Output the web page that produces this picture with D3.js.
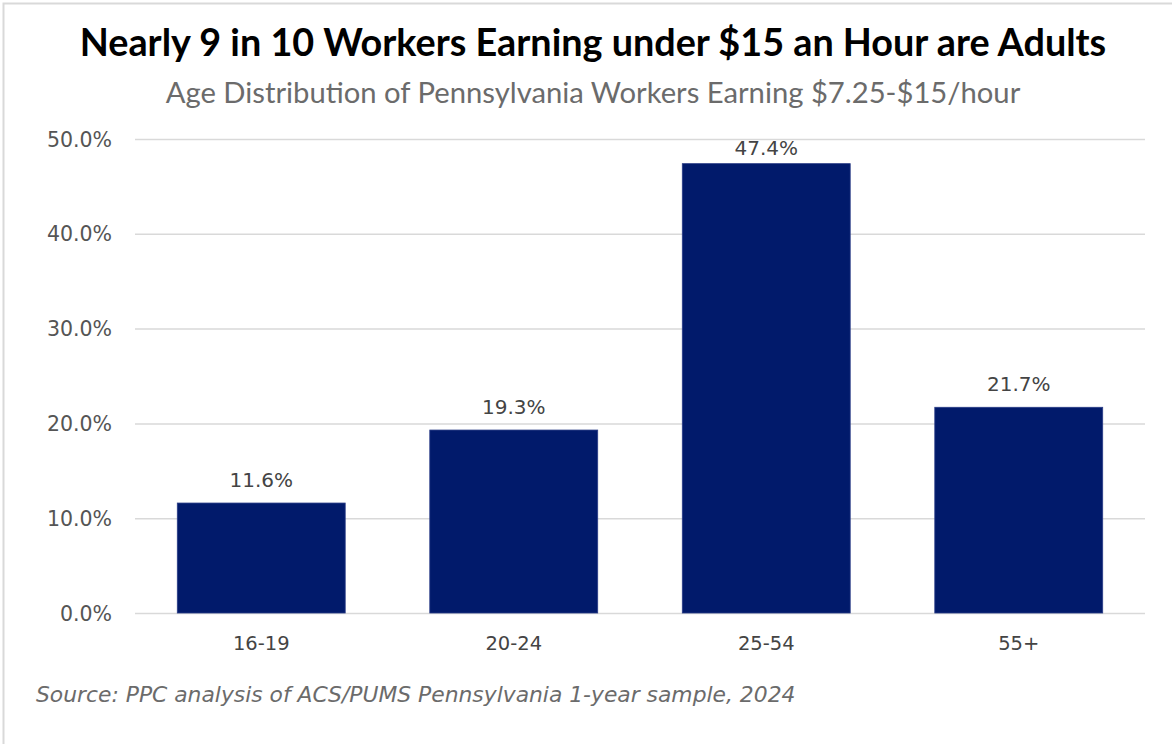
<!DOCTYPE html>
<html><head><meta charset="utf-8">
<script src="https://cdn.jsdelivr.net/npm/d3@7"></script>
<style>
html,body{margin:0;padding:0;background:#fff;}
svg{display:block;}
</style></head>
<body>
<svg id="chart" width="1172" height="744"></svg>
<script>
const categories = ["16-19", "20-24", "25-54", "55+"];
const values = [11.6, 19.3, 47.4, 21.7];
const yTicks = [0, 10, 20, 30, 40, 50];
const title = "Nearly 9 in 10 Workers Earning under $15 an Hour are Adults";
const subtitle = "Age Distribution of Pennsylvania Workers Earning $7.25-$15/hour";
const source = "Source: PPC analysis of ACS/PUMS Pennsylvania 1-year sample, 2024";

const W = 1172, H = 744;
const svg = d3.select("#chart");
const titleFont = "'Liberation Sans Narrow', Lato, sans-serif";
const smallFont = "'DejaVu Sans', sans-serif";

// frame
svg.append("rect").attr("x", 3.5).attr("y", 3.5).attr("width", W + 10).attr("height", H + 10)
  .attr("fill", "none").attr("stroke", "#d9d9d9").attr("stroke-width", 2);

const m = {left: 135, right: 1145, top: 139, bottom: 613};
const x = d3.scaleBand().domain(categories).range([m.left, m.right]).paddingInner(0.335).paddingOuter(0.1675);
const y = d3.scaleLinear().domain([0, 50]).range([m.bottom, m.top]);

function fitText(sel, target) {
  const w = sel.node().getComputedTextLength();
  const fs = parseFloat(sel.attr("font-size"));
  sel.attr("font-size", fs * target / w);
}

const t = svg.append("text").attr("x", 593).attr("y", 56).attr("text-anchor", "middle")
  .attr("font-family", titleFont).attr("font-weight", 700).attr("font-size", 30).attr("fill", "#000").text(title);
fitText(t, 1027);

const st = svg.append("text").attr("x", 593).attr("y", 103).attr("text-anchor", "middle")
  .attr("font-family", titleFont).attr("font-weight", 400).attr("font-size", 24).attr("fill", "#6b6b6b").text(subtitle);
fitText(st, 855);

// gridlines
const yAxis = d3.axisLeft(y).tickValues(yTicks).tickSize(-(m.right - m.left)).tickPadding(23)
  .tickFormat(d => d.toFixed(1) + "%");
const ga = svg.append("g").attr("transform", `translate(${m.left},0)`).call(yAxis);
ga.select(".domain").remove();
ga.selectAll(".tick line").attr("stroke", "#d9d9d9").attr("stroke-width", 1.5);
ga.selectAll(".tick text").attr("font-family", smallFont).attr("font-size", 20.5).attr("fill", "#555").attr("dy", "0.35em");

// bars
svg.append("g").selectAll("rect").data(values).join("rect")
  .attr("x", (d, i) => x(categories[i])).attr("width", x.bandwidth())
  .attr("y", d => y(d)).attr("height", d => y(0) - y(d))
  .attr("fill", "#011a6b").attr("stroke", "#2a3c86").attr("stroke-width", 0.8);

// value labels (kept below the top of the plot area)
svg.append("g").selectAll("text").data(values).join("text")
  .attr("x", (d, i) => x(categories[i]) + x.bandwidth() / 2)
  .attr("y", d => Math.max(y(d) - 16, y(50) + 16))
  .attr("text-anchor", "middle").attr("font-family", smallFont).attr("font-size", 20).attr("fill", "#444")
  .text(d => d.toFixed(1) + "%");

// x axis labels
const xAxis = d3.axisBottom(x).tickSize(0).tickPadding(23);
const gx = svg.append("g").attr("transform", `translate(0,${m.bottom})`).call(xAxis);
gx.select(".domain").remove();
gx.selectAll(".tick text").attr("font-family", smallFont).attr("font-size", 19.5).attr("fill", "#444");

const src = svg.append("text").attr("x", 36).attr("y", 702).attr("font-family", smallFont).attr("font-style", "italic")
  .attr("font-size", 19).attr("fill", "#6b6b6b").text(source);
fitText(src, 760);
</script>
</body></html>
